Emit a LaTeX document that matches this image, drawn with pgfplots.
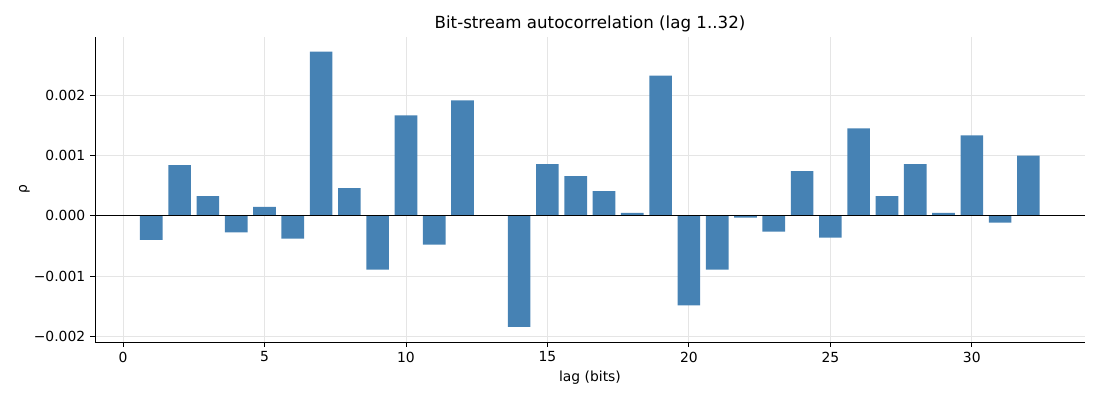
\documentclass[border=0pt]{standalone}
\usepackage{pgfplots}
\pgfplotsset{compat=1.18}
\usepackage{fontspec}
\setmainfont{DejaVu Sans}
\definecolor{barblue}{RGB}{70,130,180}
\pgfplotstableread{
lag rho
1 -0.000398
2 0.000845
3 0.000330
4 -0.000276
5 0.000150
6 -0.000380
7 0.002735
8 0.000464
9 -0.000895
10 0.001674
11 -0.000480
12 0.001923
13 0.000000
14 -0.001850
15 0.000862
16 0.000663
17 0.000414
18 0.000050
19 0.002337
20 -0.001490
21 -0.000895
22 -0.000030
23 -0.000260
24 0.000746
25 -0.000360
26 0.001459
27 0.000330
28 0.000862
29 0.000050
30 0.001343
31 -0.000110
32 0.001006
}\datatable
\begin{document}
\begin{tikzpicture}
\begin{axis}[
  at={(0,0)}, anchor=south west,
  scale only axis,
  width=712.8pt, height=219.6pt,
  xmin=-0.99, xmax=34.0,
  ymin=-0.0021, ymax=0.00298,
  axis x line*=bottom, axis y line*=left,
  axis line style={-, line width=0.65pt},
  tick align=outside,
  major tick length=3.5pt,
  tick style={black, line width=0.65pt},
  xtick={0,5,10,15,20,25,30},
  ytick={-0.002,-0.001,0,0.001,0.002},
  yticklabels={−0.002,−0.001,0.000,0.001,0.002},
  scaled y ticks=false,
  /pgf/number format/assume math mode=true,
  ticklabel style={font=\fontsize{10}{12}\selectfont},
  grid=major,
  major grid style={line width=0.6pt, black!10},
  title={Bit-stream autocorrelation (lag 1..32)},
  title style={font=\fontsize{12}{14}\selectfont, yshift=-6pt},
  xlabel={lag (bits)},
  ylabel={ρ},
  label style={font=\fontsize{10}{12}\selectfont},
  xlabel style={yshift=0.5pt},
  ylabel style={yshift=-4pt},
]
\addplot[ybar, bar width=0.8, fill=barblue, draw=none] table[x=lag, y=rho] {\datatable};
\addplot[black, line width=0.7pt, no markers] coordinates {(-0.99,0) (34.0,0)};
\end{axis}
\path[use as bounding box] (-68.4pt,-41.76pt) rectangle (723.6pt,246.24pt);
\end{tikzpicture}
\end{document}
